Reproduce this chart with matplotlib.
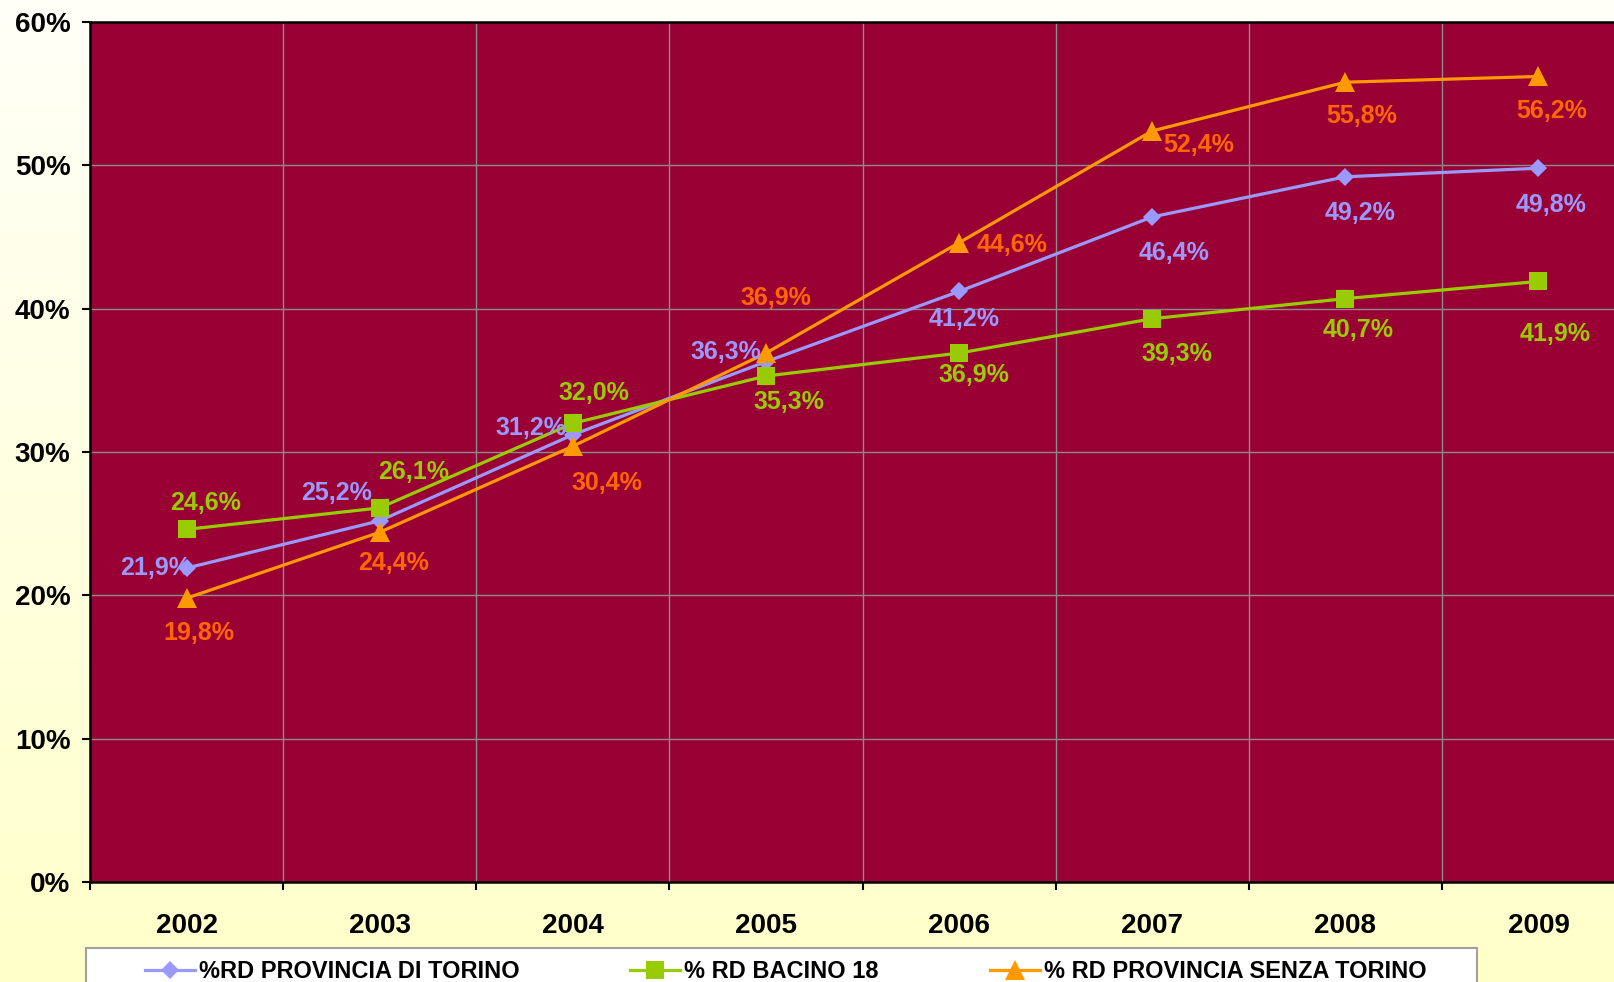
import matplotlib
matplotlib.use("Agg")
import matplotlib.pyplot as plt
import numpy as np
from matplotlib.lines import Line2D
from matplotlib.patches import Rectangle
from matplotlib.colors import LinearSegmentedColormap

plt.rcParams['font.family'] = ['Liberation Sans', 'DejaVu Sans']
plt.rcParams['font.weight'] = 'bold'

years = ['2002', '2003', '2004', '2005', '2006', '2007', '2008', '2009']
torino = [21.9, 25.2, 31.2, 36.3, 41.2, 46.4, 49.2, 49.8]
bacino = [24.6, 26.1, 32.0, 35.3, 36.9, 39.3, 40.7, 41.9]
senza = [19.8, 24.4, 30.4, 36.9, 44.6, 52.4, 55.8, 56.2]
names = ['%RD PROVINCIA DI TORINO', '% RD BACINO 18', '% RD PROVINCIA SENZA TORINO']
yticks = [0, 10, 20, 30, 40, 50, 60]

# label offsets in pixels (dx right, dy down)
off_t = [(-31, 0), (-43, -28), (-42, -7), (-40, -10), (5, 28), (22, 36), (15, 36), (13, 37)]
off_b = [(19, -26), (34, -36), (21, -30), (23, 26), (15, 22), (25, 35), (13, 31), (17, 53)]
off_s = [(12, 35), (14, 31), (34, 37), (10, -55), (53, 2), (47, 14), (16, 34), (13, 35)]

W, H = 1614, 982
fig = plt.figure(figsize=(W / 100, H / 100), dpi=100)

# gradient background
bg = fig.add_axes([0, 0, 1, 1], zorder=-10)
cmap = LinearSegmentedColormap.from_list('bg', ['#FFFFF8', '#FFFFCA'])
bg.imshow(np.linspace(0, 1, 256).reshape(-1, 1), aspect='auto', cmap=cmap,
          extent=[0, 1, 0, 1], origin='upper')
bg.axis('off')

left, right, top, bottom = 90, 1635, 22, 882
ax = fig.add_axes([left / W, 1 - bottom / H, (right - left) / W, (bottom - top) / H])
ax.set_facecolor('#990033')
x = np.arange(len(years))

series = [
    (torino, '#9999FF', '#9999FF', 'D', 9.5, off_t),
    (bacino, '#99CC00', '#99CC00', 's', 13, off_b),
    (senza, '#FF9900', '#FF6600', '^', 14, off_s),
]
handles = []
for (vals, lc, tc, mk, ms, offs), name in zip(series, names):
    ln, = ax.plot(x, vals, color=lc, lw=2.3, marker=mk, markersize=ms,
                  markeredgewidth=0, zorder=3, clip_on=False)
    handles.append(ln)
    for xi, v, (dx, dy) in zip(x, vals, offs):
        ax.annotate(f"{v:.1f}%".replace('.', ','), (xi, v), xytext=(dx, -dy),
                    textcoords='offset pixels', ha='center', va='center',
                    color=tc, fontsize=18, fontweight='bold', zorder=4)

ax.set_xlim(-0.5, len(years) - 0.5)
ax.set_ylim(0, 60)
ax.set_yticks(yticks)
ax.set_yticklabels([f"{t}%" for t in yticks])
ax.set_xticks(x)
ax.set_xticklabels(years)
ax.set_xticks(np.arange(-0.5, len(years), 1), minor=True)
ax.tick_params(axis='x', which='major', length=0, pad=22, labelsize=20)
ax.tick_params(axis='x', which='minor', length=6, width=1.5, direction='out')
ax.tick_params(axis='y', length=6, width=1.5, direction='out', pad=8, labelsize=20)
ax.grid(True, which='minor', axis='x', color='#8C8C8C', lw=1.0)
ax.grid(True, which='major', axis='y', color='#8C8C8C', lw=1.0)
ax.set_axisbelow(True)
for s in ['left', 'bottom', 'top']:
    ax.spines[s].set_color('black')
    ax.spines[s].set_linewidth(1.8)
ax.spines['right'].set_visible(False)

# legend box
fig.patches.append(Rectangle((86 / W, -0.02), (1477 - 86) / W, (982 - 948) / H + 0.02,
                             transform=fig.transFigure, facecolor='white',
                             edgecolor='#A0A0A0', lw=1.5, zorder=1))
fs = 17
fpx = fs * 100 / 72
for h, name, xpos in zip(handles, names, [145, 630, 990]):
    leg = fig.legend(handles=[h], labels=[name], loc='center left',
                     bbox_to_anchor=(xpos / W, 1 - 972 / H), frameon=False,
                     handlelength=50 / fpx, handletextpad=4 / fpx, borderpad=0,
                     borderaxespad=0, prop={'size': fs, 'weight': 'bold'})
    leg.set_zorder(5)

fig.savefig('out.png', dpi=100)
